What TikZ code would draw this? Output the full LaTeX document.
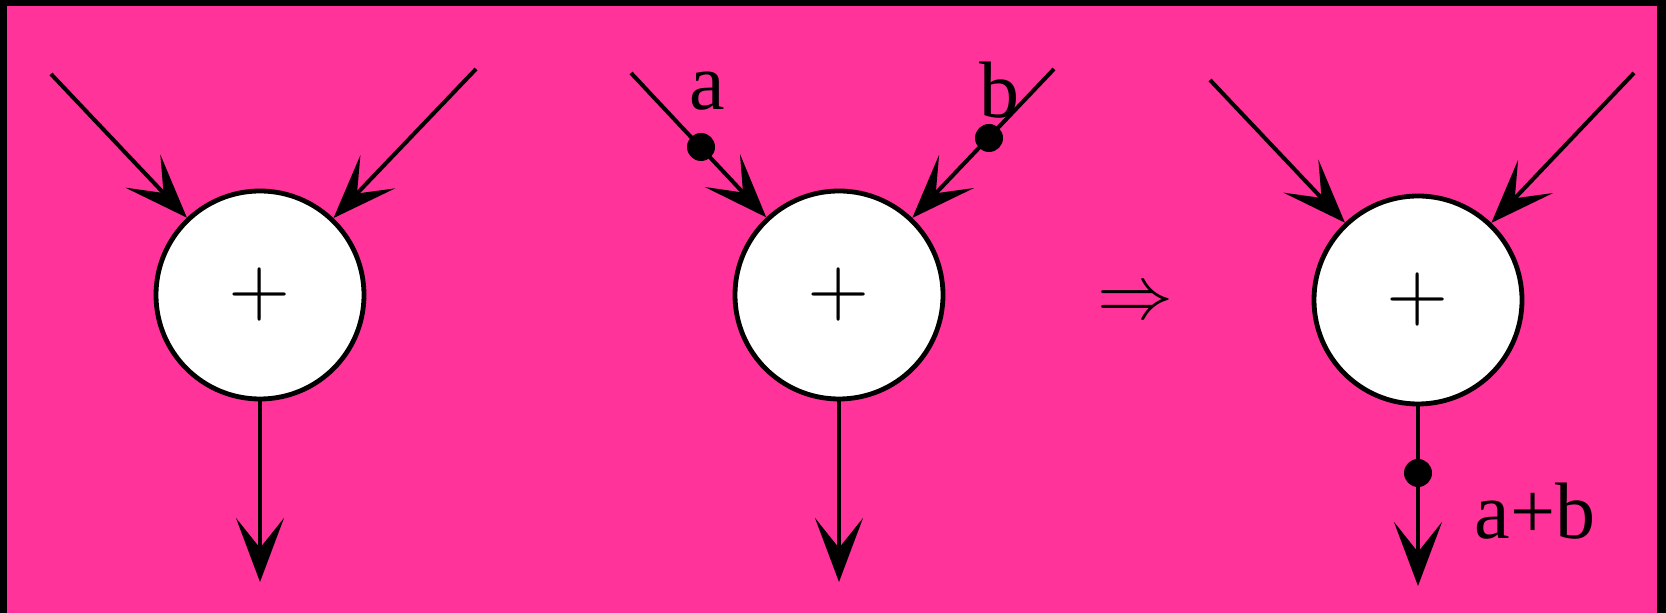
\documentclass[tikz,border=0pt]{standalone}
\usepackage{fontspec}
\setmainfont{Liberation Serif}
\usepackage{tikz}
\usetikzlibrary{arrows.meta, positioning}
\definecolor{mypink}{RGB}{255,51,153}
\tikzstyle{adder} = [circle, draw=black, fill=white, line width=2.4pt, minimum size=104pt, inner sep=0pt]
\tikzstyle{edge} = [line width=2pt, -{Stealth[length=32pt,width=24pt,inset=15pt]}]
\tikzstyle{token} = [circle, fill=black, inner sep=0pt, minimum size=14pt]
\tikzstyle{lbl} = [font=\fontsize{40}{40}\selectfont]

\begin{document}
\begin{tikzpicture}[x=0.5pt, y=-0.5pt]
\useasboundingbox (0,0) rectangle (1666,613);
\fill[black] (0,0) rectangle (1666,613);
\fill[mypink] (7,6) rectangle (1657,613);

% adders
\node[adder] (c1) at (260,295) {\scalebox{4}{$+$}};
\node[adder] (c2) at (839,295) {\scalebox{4}{$+$}};
\node[adder] (c3) at (1418,300) {\scalebox{4}{$+$}};

% free ends
\coordinate (i1l) at (51,74);
\coordinate (i1r) at (476,69);
\coordinate (o1) at (260,582);
\coordinate (i2l) at (631,73);
\coordinate (i2r) at (1054,69);
\coordinate (o2) at (839,582);
\coordinate (i3l) at (1210,80);
\coordinate (i3r) at (1634,73);
\coordinate (o3) at (1418,586);

\draw[edge] (i1l) -- (c1);
\draw[edge] (i1r) -- (c1);
\draw[edge] (c1) -- (o1);

\draw[edge] (i2l) -- (c2);
\draw[edge] (i2r) -- (c2);
\draw[edge] (c2) -- (o2);

\draw[edge] (i3l) -- (c3);
\draw[edge] (i3r) -- (c3);
\draw[edge] (c3) -- (o3);

% tokens
\node[token] (ta) at (701,147) {};
\node[token] (tb) at (989,138) {};
\node[token] (tab) at (1418,473) {};

% labels
\node[lbl] (la) at (707,91) {a};
\node[lbl] (lb) at (999,90) {b};
\node[lbl] (lab) at (1535,511) {a+b};
\node (imp) at (1135,305) {\scalebox{3.8}{$\Rightarrow$}};
\end{tikzpicture}
\end{document}
